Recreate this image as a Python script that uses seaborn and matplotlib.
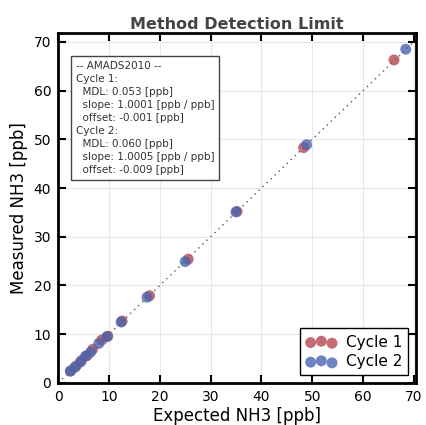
import matplotlib
matplotlib.use('Agg')
import matplotlib.pyplot as plt
import seaborn as sns
import pandas as pd

# expected vs measured NH3 [ppb]
cycle1_expected = [2.5, 3.6, 4.6, 5.7, 6.8, 8.6, 9.8, 12.6, 18.0, 25.6, 35.2, 48.3, 66.1]
cycle1_measured = [2.5, 3.5, 4.6, 5.6, 6.9, 8.8, 9.6, 12.7, 17.9, 25.4, 35.2, 48.3, 66.3]
cycle2_expected = [2.4, 3.3, 4.4, 5.4, 6.4, 8.0, 9.6, 12.4, 17.5, 25.0, 35.0, 48.9, 68.4]
cycle2_measured = [2.4, 3.2, 4.3, 5.5, 6.3, 8.1, 9.5, 12.5, 17.6, 24.9, 35.1, 48.9, 68.5]
series_names = ["Cycle 1", "Cycle 2"]
series_colors = ["#b5474f", "#4a64b0"]

info_text = ("-- AMADS2010 --\n"
             "Cycle 1:\n"
             "  MDL: 0.053 [ppb]\n"
             "  slope: 1.0001 [ppb / ppb]\n"
             "  offset: -0.001 [ppb]\n"
             "Cycle 2:\n"
             "  MDL: 0.060 [ppb]\n"
             "  slope: 1.0005 [ppb / ppb]\n"
             "  offset: -0.009 [ppb]")

df1 = pd.DataFrame({"expected": cycle1_expected, "measured": cycle1_measured})
df2 = pd.DataFrame({"expected": cycle2_expected, "measured": cycle2_measured})

sns.set_style("ticks")
plt.rcParams['font.family'] = ['DejaVu Sans']
plt.rcParams['text.color'] = 'black'
plt.rcParams['axes.labelcolor'] = 'black'
plt.rcParams['xtick.color'] = 'black'
plt.rcParams['ytick.color'] = 'black'

fig = plt.figure(figsize=(4.27, 4.25), dpi=100)
ax = fig.add_axes([0.136, 0.099, 0.838, 0.823])

# 1:1 reference line
ax.plot([0, 70], [0, 70], linestyle=(0, (1, 3)), color="#555555", linewidth=1.0, zorder=1)

for d, name, c in zip([df1, df2], series_names, series_colors):
    sns.scatterplot(data=d, x="expected", y="measured", color=c, label=name,
                    s=62, alpha=0.8, edgecolor="none", ax=ax, zorder=2, legend=False)

ax.set_xlim(0, 70.4)
ax.set_ylim(0, 71.8)
ax.set_xticks(range(0, 71, 10))
ax.set_yticks(range(0, 71, 10))
ax.grid(True, color="#e8e8e8", linewidth=0.8)
ax.set_axisbelow(True)
for sp in ax.spines.values():
    sp.set_linewidth(2)
    sp.set_color("black")
ax.tick_params(direction="in", length=6, width=1.5, labelsize=10, top=True, right=True, pad=5)

ax.set_xlabel("Expected NH3 [ppb]", fontsize=12, labelpad=2)
ax.set_ylabel("Measured NH3 [ppb]", fontsize=12, labelpad=4)
ax.set_title("Method Detection Limit", fontsize=11.5, fontweight="bold", color="#444444", pad=3)

ax.text(0.05, 0.92, info_text, transform=ax.transAxes, fontsize=7.5, va="top", ha="left",
        color="#333333", linespacing=1.38,
        bbox=dict(boxstyle="square,pad=0.45", facecolor="white", edgecolor="#444444", linewidth=1))

ax.legend(handles=ax.collections[:2], labels=series_names, loc="lower right", scatterpoints=3,
          fontsize=11, frameon=True, fancybox=False, edgecolor="black", framealpha=1,
          handletextpad=0.6, borderpad=0.4, labelspacing=0.3)

plt.savefig("out.png", dpi=100)
plt.close()
